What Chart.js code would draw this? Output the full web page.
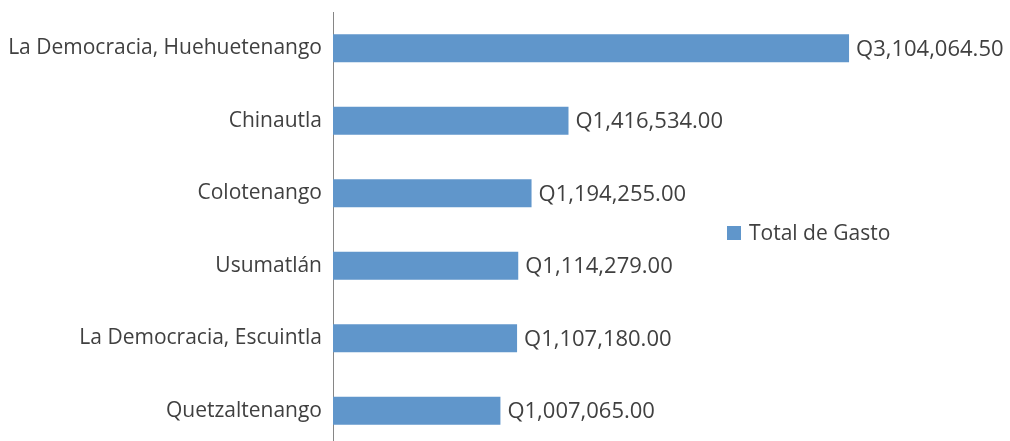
<!DOCTYPE html>
<html>
<head>
<meta charset="utf-8">
<script src="https://cdn.jsdelivr.net/npm/chart.js@4.4.0/dist/chart.umd.min.js"></script>
<style>
html,body{margin:0;padding:0;background:#fff;overflow:hidden;}
#wrap{position:relative;width:1010px;height:447px;}
</style>
</head>
<body>
<div id="wrap"><canvas id="c"></canvas></div>
<script>
const categories = ["La Democracia, Huehuetenango","Chinautla","Colotenango","Usumatlán","La Democracia, Escuintla","Quetzaltenango"];
const totalGasto = [3104064.50,1416534.00,1194255.00,1114279.00,1107180.00,1007065.00];
const seriesName = "Total de Gasto";

const FONT = "'Open Sans', sans-serif";
const TEXT = "#404040";
const BAR = "#6096cb";

function fmtQ(v){
  return "Q" + v.toLocaleString("en-US",{minimumFractionDigits:2,maximumFractionDigits:2});
}

const labelPlugin = {
  id:"labels",
  afterDatasetsDraw(chart){
    const ctx = chart.ctx;
    const meta = chart.getDatasetMeta(0);
    ctx.save();
    ctx.font = "22px " + FONT;
    ctx.fillStyle = TEXT;
    ctx.textBaseline = "middle";
    ctx.textAlign = "left";
    meta.data.forEach((bar,i)=>{
      ctx.fillText(fmtQ(totalGasto[i]), bar.x + 7, bar.y + 1);
    });
    // legend
    ctx.font = "21px " + FONT;
    ctx.fillStyle = BAR;
    ctx.fillRect(727,226,14,14);
    ctx.fillStyle = TEXT;
    ctx.fillText(seriesName, 749, 234);
    ctx.restore();
  }
};

new Chart(document.getElementById("c"),{
  type:"bar",
  data:{
    labels:categories,
    datasets:[{label:seriesName,data:totalGasto,backgroundColor:BAR,borderWidth:0,
      categoryPercentage:1,barPercentage:0.386}]
  },
  options:{
    indexAxis:"y",
    responsive:true,
    maintainAspectRatio:false,
    animation:false,
    layout:{padding:{left:0,top:12,right:12,bottom:0}},
    plugins:{legend:{display:false},tooltip:{enabled:false}},
    scales:{
      x:{display:false,min:0,max:4000000},
      y:{
        afterFit(s){ s.width = 333; s.paddingTop = 0; s.paddingBottom = 0; },
        grid:{display:false,drawTicks:false},
        border:{display:true,color:"#868686",width:1},
        ticks:{padding:11,color:TEXT,font:{family:FONT,size:21}}
      }
    }
  },
  plugins:[labelPlugin]
});
</script>
</body>
</html>
